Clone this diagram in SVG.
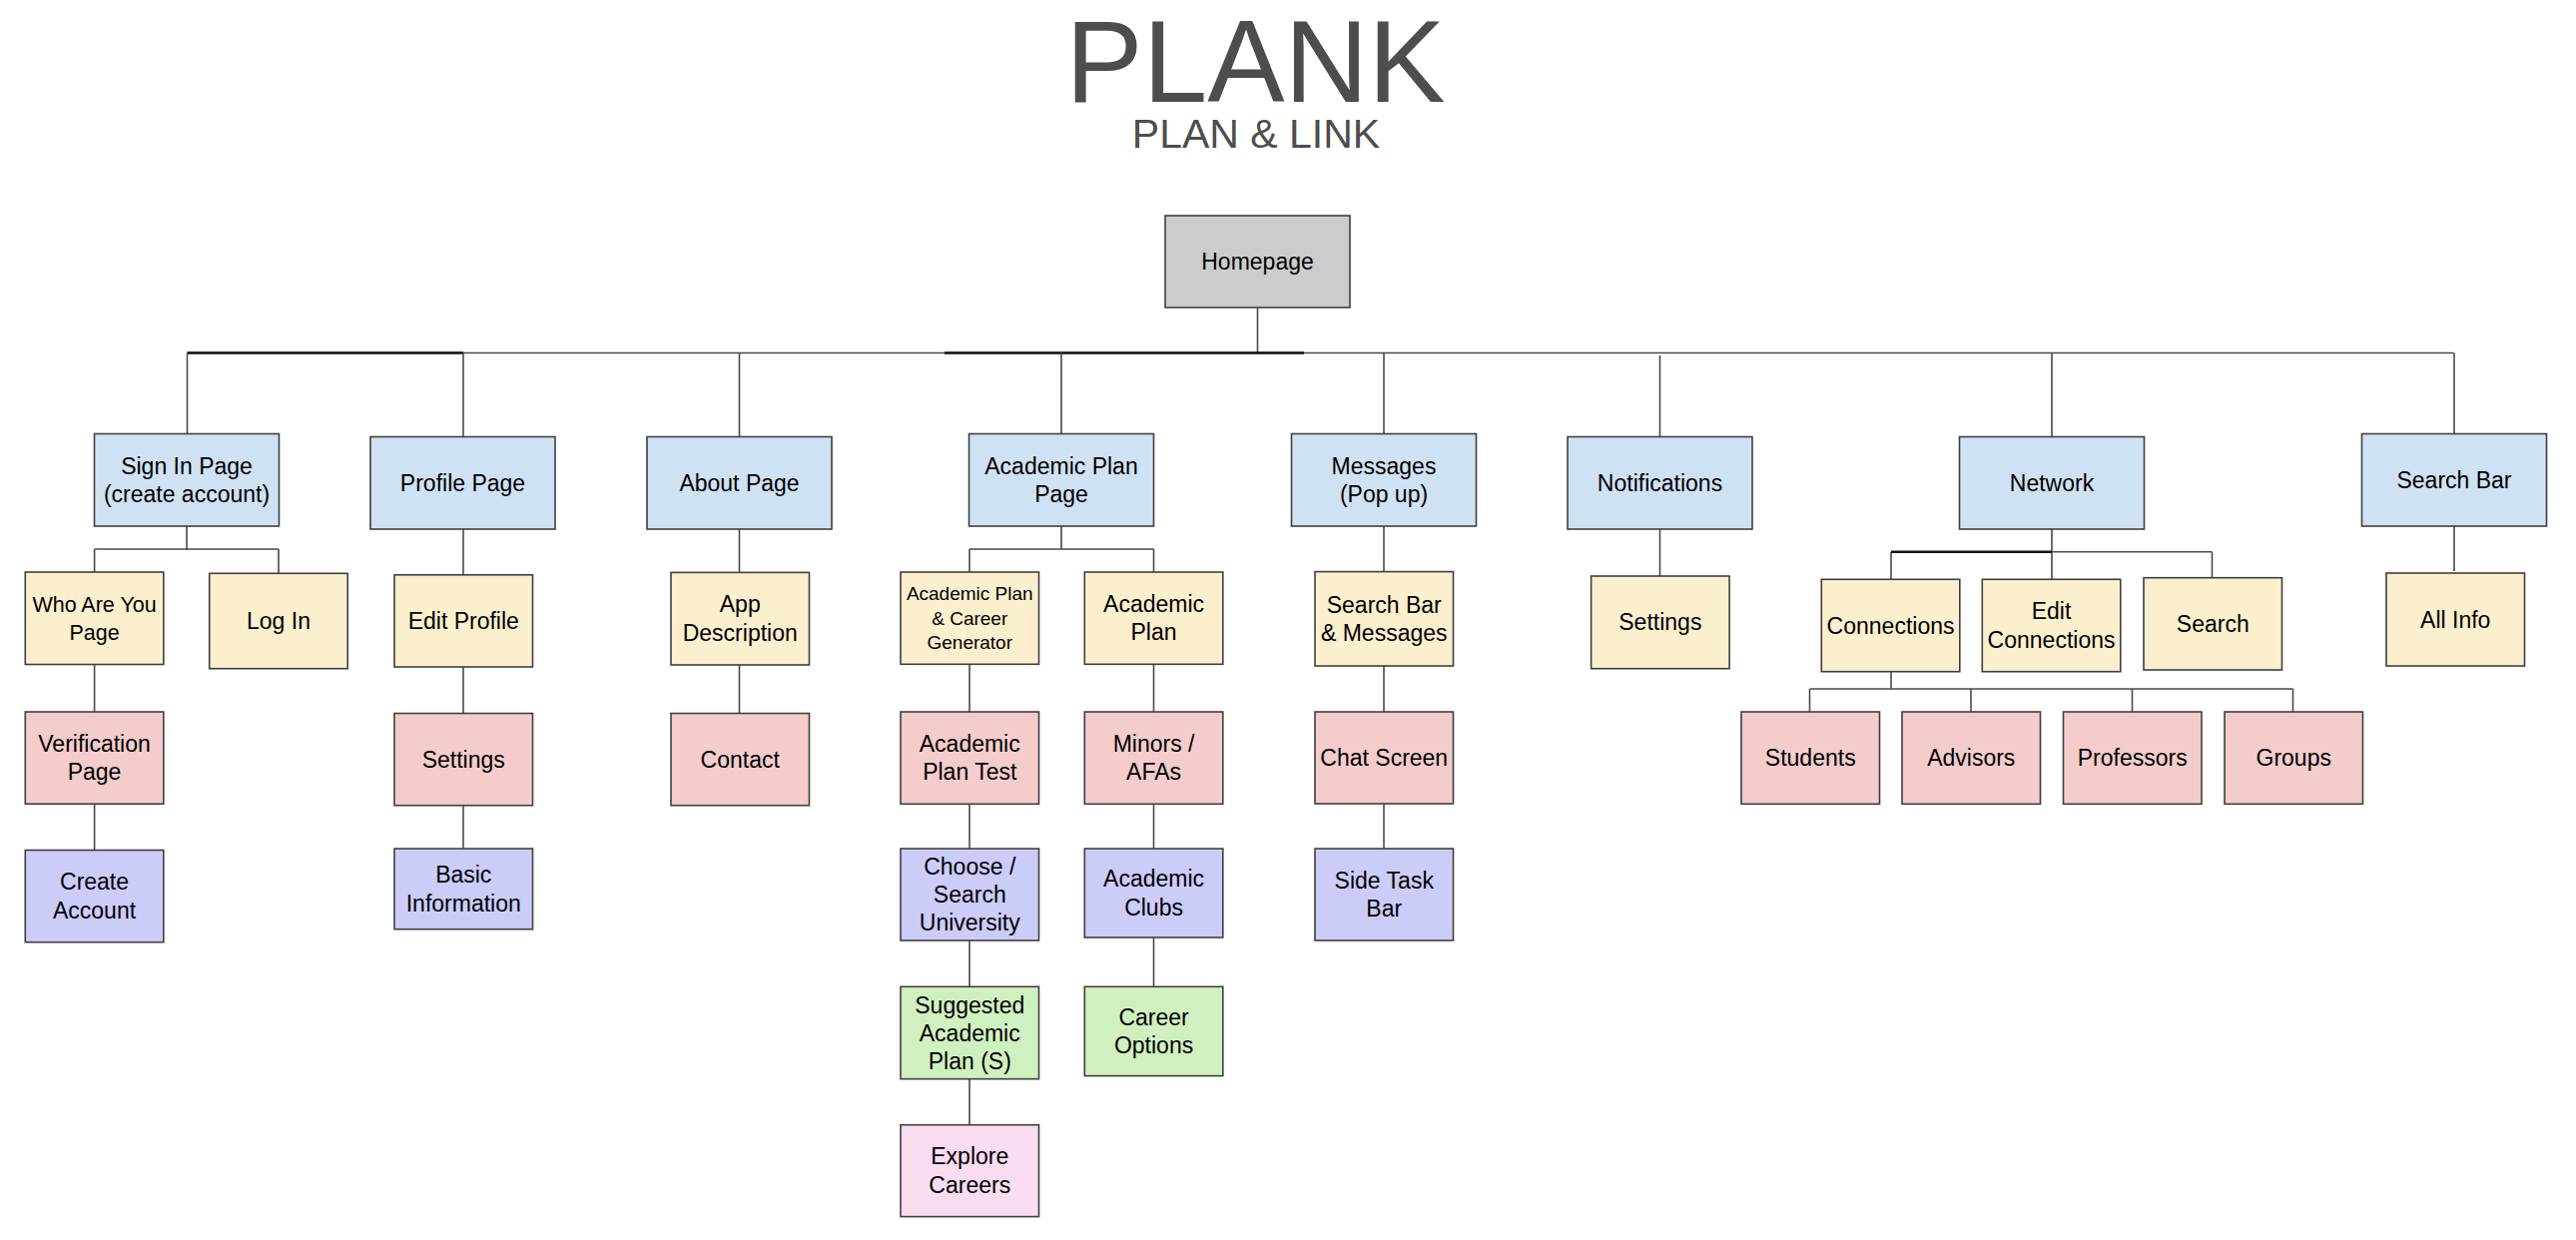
<svg xmlns="http://www.w3.org/2000/svg" width="2580" height="1242" viewBox="0 0 2580 1242">
<style>
text{font-family:"Liberation Sans",Arial,Helvetica,sans-serif;font-size:23px;text-anchor:middle;fill:#000}
.title{fill:#4d4d4d}
.node rect{stroke:#3f3f3f;stroke-width:1.6}
.gray{fill:#cccccc}.blue{fill:#cfe2f3}.yel{fill:#fcefcd}.red{fill:#f4cccc}.lav{fill:#ccccf9}.grn{fill:#d0f0c0}.pnk{fill:#f9dcf0}
#connectors path{fill:none;stroke:#4a4a4a;stroke-width:1.6}
#connectors path.dark{stroke:#111;stroke-width:2.4}
</style>
<rect width="2580" height="1242" fill="#fff"/>
<g id="title">
<text class="title" x="1257.5" y="101.7" style="font-size:116px">PLANK</text>
<text class="title" x="1258" y="147.5" style="font-size:41px">PLAN &amp; LINK</text>
</g>
<g id="connectors">
<path d="M1259.5 308V353.5"/>
<path d="M187.5 353.5H2457.5"/>
<path class="dark" d="M187.5 353.5H464M946 353.5H1306"/>
<path d="M187.5 353.5V434.5M464 353.5V437.5M740.5 353.5V437.5M1063 353.5V434.5M1386 353.5V434.5M1662.5 356V437.5M2055 353.5V437.5M2458 353.5V434.5"/>
<path d="M187 527V551M94.6 550H279M94.6 550V573M279 550V574.3"/>
<path d="M94.6 665.3V713M94.6 805.2V851.5"/>
<path d="M464 530V575.8M464 668V714.5M464 806.7V850"/>
<path d="M740.5 530V573.4M740.5 666V714.5"/>
<path d="M1063 527V550M971 550H1155.5M971 550V573M1155.5 550V573"/>
<path d="M971 665.3V713M971 805.3V850M971 942V988.3M971 1080.7V1126.7"/>
<path d="M1155.5 665.3V713M1155.5 805.3V850M1155.5 939V988.3"/>
<path d="M1386 527V572.6M1386 667V713M1386 805V850"/>
<path d="M1662.5 530V577"/>
<path d="M2055 530V580.3M1894 552.7H2215.5M1894 552.7V580.3M2215.5 552.7V578.7"/>
<path class="dark" d="M1894 552.7H2055"/>
<path d="M1894 672.7V690M1812.5 690H2296.5M1812.5 690V713M1974 690V713M2135.5 690V713M2296.5 690V713"/>
<path d="M2458 527V572"/>
</g>
<g id="homepage" class="node"><rect class="gray" x="1167" y="216" width="185" height="92"/><text x="1259.5" y="270">Homepage</text></g>
<g id="sign-in-page" class="node"><rect class="blue" x="94.5" y="434.5" width="185" height="92.5"/><text x="187" y="474.5">Sign In Page</text><text x="187" y="503">(create account)</text></g>
<g id="profile-page" class="node"><rect class="blue" x="371" y="437.5" width="185" height="92.5"/><text x="463.5" y="491.75">Profile Page</text></g>
<g id="about-page" class="node"><rect class="blue" x="648" y="437.5" width="185" height="92.5"/><text x="740.5" y="491.75">About Page</text></g>
<g id="academic-plan-page" class="node"><rect class="blue" x="970.5" y="434.5" width="185" height="92.5"/><text x="1063" y="474.5">Academic Plan</text><text x="1063" y="503">Page</text></g>
<g id="messages" class="node"><rect class="blue" x="1293.5" y="434.5" width="185" height="92.5"/><text x="1386" y="474.5">Messages</text><text x="1386" y="503">(Pop up)</text></g>
<g id="notifications" class="node"><rect class="blue" x="1570" y="437.5" width="185" height="92.5"/><text x="1662.5" y="491.75">Notifications</text></g>
<g id="network" class="node"><rect class="blue" x="1962.5" y="437.5" width="185" height="92.5"/><text x="2055" y="491.75">Network</text></g>
<g id="search-bar" class="node"><rect class="blue" x="2365.5" y="434.5" width="185" height="92.5"/><text x="2458" y="488.75">Search Bar</text></g>
<g id="who-are-you-page" class="node"><rect class="yel" x="25.3" y="573" width="138.5" height="92.5"/><text x="94.55" y="613" style="font-size:21.5px">Who Are You</text><text x="94.55" y="640.5" style="font-size:21.5px">Page</text></g>
<g id="log-in" class="node"><rect class="yel" x="209.7" y="574.3" width="138.5" height="95.4"/><text x="279" y="630">Log In</text></g>
<g id="edit-profile" class="node"><rect class="yel" x="395" y="575.8" width="138.5" height="92.2"/><text x="464.25" y="629.9">Edit Profile</text></g>
<g id="app-description" class="node"><rect class="yel" x="672" y="573.4" width="138.5" height="92.6"/><text x="741.25" y="613.45">App</text><text x="741.25" y="641.95">Description</text></g>
<g id="academic-plan-career-generator" class="node"><rect class="yel" x="902" y="573" width="138.5" height="92.3"/><text x="971.25" y="601.3" style="font-size:19px">Academic Plan</text><text x="971.25" y="625.8" style="font-size:19px">&amp; Career</text><text x="971.25" y="650.3" style="font-size:19px">Generator</text></g>
<g id="academic-plan" class="node"><rect class="yel" x="1086.3" y="573" width="138.5" height="92.3"/><text x="1155.55" y="612.9">Academic</text><text x="1155.55" y="641.4">Plan</text></g>
<g id="search-bar-messages" class="node"><rect class="yel" x="1317" y="572.6" width="138.5" height="94.4"/><text x="1386.25" y="613.55">Search Bar</text><text x="1386.25" y="642.05">&amp; Messages</text></g>
<g id="notification-settings" class="node"><rect class="yel" x="1593.6" y="577" width="138.5" height="92.7"/><text x="1662.85" y="631.35">Settings</text></g>
<g id="connections" class="node"><rect class="yel" x="1824.3" y="580.3" width="138.5" height="92.4"/><text x="1893.55" y="634.5">Connections</text></g>
<g id="edit-connections" class="node"><rect class="yel" x="1985.3" y="580.3" width="138.5" height="92.4"/><text x="2054.55" y="620.25">Edit</text><text x="2054.55" y="648.75">Connections</text></g>
<g id="search" class="node"><rect class="yel" x="2147" y="578.7" width="138.5" height="92.3"/><text x="2216.25" y="632.85">Search</text></g>
<g id="all-info" class="node"><rect class="yel" x="2390" y="574" width="138.5" height="93"/><text x="2459.25" y="628.5">All Info</text></g>
<g id="verification-page" class="node"><rect class="red" x="25.3" y="713" width="138.5" height="92.2"/><text x="94.55" y="752.85">Verification</text><text x="94.55" y="781.35">Page</text></g>
<g id="profile-settings" class="node"><rect class="red" x="395" y="714.5" width="138.5" height="92.2"/><text x="464.25" y="768.6">Settings</text></g>
<g id="contact" class="node"><rect class="red" x="672" y="714.5" width="138.5" height="92.2"/><text x="741.25" y="768.6">Contact</text></g>
<g id="academic-plan-test" class="node"><rect class="red" x="902" y="713" width="138.5" height="92.3"/><text x="971.25" y="752.9">Academic</text><text x="971.25" y="781.4">Plan Test</text></g>
<g id="minors-afas" class="node"><rect class="red" x="1086.3" y="713" width="138.5" height="92.3"/><text x="1155.55" y="752.9">Minors /</text><text x="1155.55" y="781.4">AFAs</text></g>
<g id="chat-screen" class="node"><rect class="red" x="1317" y="713" width="138.5" height="92"/><text x="1386.25" y="767">Chat Screen</text></g>
<g id="students" class="node"><rect class="red" x="1744" y="713" width="138.5" height="92.3"/><text x="1813.25" y="767.15">Students</text></g>
<g id="advisors" class="node"><rect class="red" x="1905" y="713" width="138.5" height="92.3"/><text x="1974.25" y="767.15">Advisors</text></g>
<g id="professors" class="node"><rect class="red" x="2066.5" y="713" width="138.5" height="92.3"/><text x="2135.75" y="767.15">Professors</text></g>
<g id="groups" class="node"><rect class="red" x="2228" y="713" width="138.5" height="92.3"/><text x="2297.25" y="767.15">Groups</text></g>
<g id="create-account" class="node"><rect class="lav" x="25.3" y="851.5" width="138.5" height="92.2"/><text x="94.55" y="891.35">Create</text><text x="94.55" y="919.85">Account</text></g>
<g id="basic-information" class="node"><rect class="lav" x="395" y="850" width="138.5" height="80.7"/><text x="464.25" y="884.1">Basic</text><text x="464.25" y="912.6">Information</text></g>
<g id="choose-search-university" class="node"><rect class="lav" x="902" y="850" width="138.5" height="92"/><text x="971.25" y="876">Choose /</text><text x="971.25" y="904">Search</text><text x="971.25" y="932">University</text></g>
<g id="academic-clubs" class="node"><rect class="lav" x="1086.3" y="850" width="138.5" height="89"/><text x="1155.55" y="888.25">Academic</text><text x="1155.55" y="916.75">Clubs</text></g>
<g id="side-task-bar" class="node"><rect class="lav" x="1317" y="850" width="138.5" height="92"/><text x="1386.25" y="889.75">Side Task</text><text x="1386.25" y="918.25">Bar</text></g>
<g id="suggested-academic-plan" class="node"><rect class="grn" x="902" y="988.3" width="138.5" height="92.4"/><text x="971.25" y="1014.5">Suggested</text><text x="971.25" y="1042.5">Academic</text><text x="971.25" y="1070.5">Plan (S)</text></g>
<g id="career-options" class="node"><rect class="grn" x="1086.3" y="988.3" width="138.5" height="89.3"/><text x="1155.55" y="1026.7">Career</text><text x="1155.55" y="1055.2">Options</text></g>
<g id="explore-careers" class="node"><rect class="pnk" x="902" y="1126.7" width="138.5" height="91.9"/><text x="971.25" y="1166.4">Explore</text><text x="971.25" y="1194.9">Careers</text></g>
</svg>
